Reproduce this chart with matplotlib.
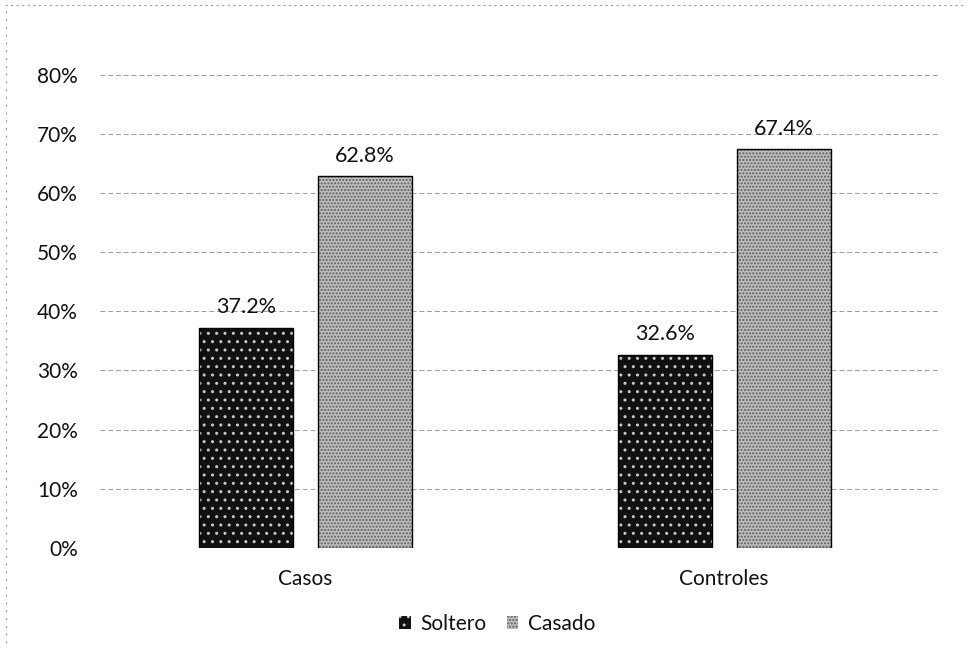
import matplotlib
matplotlib.use("Agg")
import matplotlib.pyplot as plt
import numpy as np
from matplotlib.ticker import PercentFormatter

categories = ["Casos", "Controles"]
series_names = ["Soltero", "Casado"]
soltero = [37.2, 32.6]
casado = [62.8, 67.4]
yticks = [0, 10, 20, 30, 40, 50, 60, 70, 80]

plt.rcParams['font.family'] = ['Lato', 'DejaVu Sans']
plt.rcParams['hatch.linewidth'] = 1.0

fig = plt.figure(figsize=(9.7, 6.56), dpi=100)
ax = fig.add_axes([0.103, 0.165, 0.866, 0.721])

x = np.arange(len(categories))
w = 0.224
off = 0.142
b1 = ax.bar(x - off, soltero, w, facecolor='#111111', edgecolor='#c8c8c8',
            hatch='..', linewidth=0, zorder=3, label=series_names[0])
b2 = ax.bar(x + off, casado, w, facecolor='#bdbdbd', edgecolor='#5e5e5e',
            hatch='.....', linewidth=0, zorder=3, label=series_names[1])
for bars in (b1, b2):
    for r in bars:
        ax.add_patch(plt.Rectangle((r.get_x(), 0), r.get_width(), r.get_height(),
                                   fill=False, edgecolor='black', linewidth=1.0, zorder=4))

for bars, vals in ((b1, soltero), (b2, casado)):
    for r, v in zip(bars, vals):
        ax.text(r.get_x() + r.get_width() / 2, v + 1.8, f"{v:.1f}%",
                ha='center', va='bottom', fontsize=15.5, color='#111111', zorder=5)

ax.set_xlim(-0.49, 1.515)
ax.set_ylim(0, 80)
ax.set_yticks(yticks)
ax.yaxis.set_major_formatter(PercentFormatter(decimals=0))
ax.set_xticks(x)
ax.set_xticklabels(categories)
ax.tick_params(axis='both', length=0, labelsize=15, colors='#111111')
ax.tick_params(axis='x', pad=15)
ax.tick_params(axis='y', pad=16)
for lab in ax.get_yticklabels():
    lab.set_horizontalalignment('right')
ax.grid(axis='y', color='#9a9a9a', linestyle=(0, (5, 3)), linewidth=0.7, zorder=0)
for s in ax.spines.values():
    s.set_visible(False)

leg = ax.legend(loc='upper center', bbox_to_anchor=(0.473, -0.1), ncol=2,
                frameon=False, fontsize=15, handlelength=0.55, handleheight=0.55,
                handletextpad=0.45, columnspacing=1.0)
for t in leg.get_texts():
    t.set_color('#111111')

# dotted border at top and left of the chart area
fig.add_artist(plt.Line2D([0.005, 0.995], [0.993, 0.993], transform=fig.transFigure,
                          color='#9a9a9a', linestyle=(0, (2, 3)), linewidth=0.8))
fig.add_artist(plt.Line2D([0.006, 0.006], [0.02, 0.993], transform=fig.transFigure,
                          color='#9a9a9a', linestyle=(0, (2, 5)), linewidth=0.8))

fig.savefig("out.png", dpi=100)
